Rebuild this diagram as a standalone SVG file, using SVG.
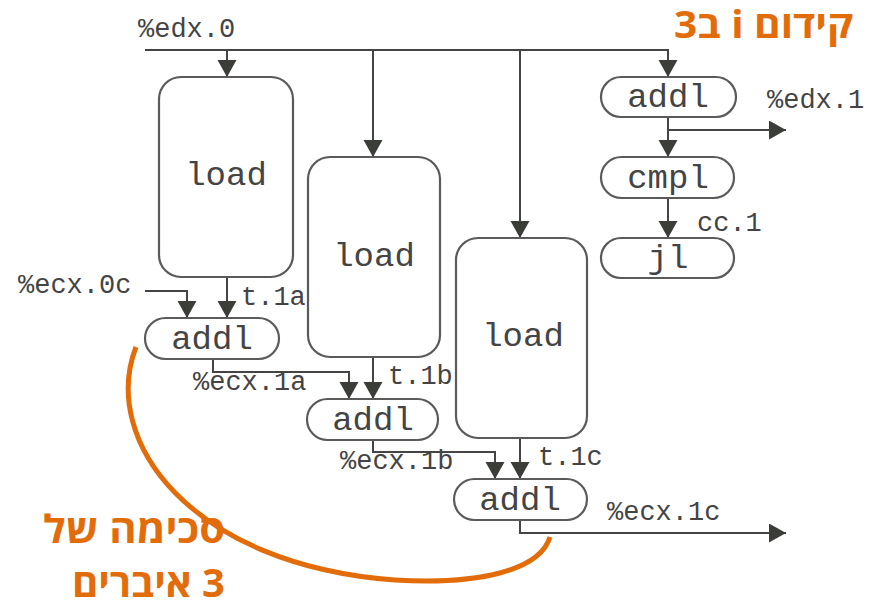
<svg xmlns="http://www.w3.org/2000/svg" width="869" height="607" viewBox="0 0 869 607">
  <style>
    .box { fill: #ffffff; stroke: #5a5a5a; stroke-width: 2.2; }
    .op { font-family: "Liberation Mono", "Courier New", monospace; font-size: 34px; fill: #444444; text-anchor: middle; }
    .lbl { font-family: "Liberation Mono", "Courier New", monospace; font-size: 27px; fill: #444444; }
    .wire { fill: none; stroke: #444444; stroke-width: 2; }
    .note { font-family: "Open Sans", "Liberation Sans", "DejaVu Sans", sans-serif; font-weight: bold; fill: #E36C0A; }
  </style>
  <defs>
    <marker id="arrow" markerUnits="userSpaceOnUse" markerWidth="18" markerHeight="20" refX="17" refY="9.5" orient="auto">
      <path d="M0,0 L17,9.5 L0,19 z" fill="#3a3d38"/>
    </marker>
  </defs>

  <rect width="869" height="607" fill="#ffffff"/>

  <!-- connectors -->
  <g id="connectors">
    <path class="wire" d="M145 50 H668 V77" marker-end="url(#arrow)"/>
    <path class="wire" d="M227 50 V77" marker-end="url(#arrow)"/>
    <path class="wire" d="M373 50 V157" marker-end="url(#arrow)"/>
    <path class="wire" d="M520 50 V238" marker-end="url(#arrow)"/>
    <path class="wire" d="M668 117 V157" marker-end="url(#arrow)"/>
    <path class="wire" d="M668 130 H786" marker-end="url(#arrow)"/>
    <path class="wire" d="M668 198 V238" marker-end="url(#arrow)"/>
    <path class="wire" d="M145 291 H187 V318" marker-end="url(#arrow)"/>
    <path class="wire" d="M227 277 V318" marker-end="url(#arrow)"/>
    <path class="wire" d="M213 359 V372 H349 V399" marker-end="url(#arrow)"/>
    <path class="wire" d="M373 357 V399" marker-end="url(#arrow)"/>
    <path class="wire" d="M373 440 V452 H495 V479" marker-end="url(#arrow)"/>
    <path class="wire" d="M520 438 V479" marker-end="url(#arrow)"/>
    <path class="wire" d="M520 520 V533 H786" marker-end="url(#arrow)"/>
  </g>

  <!-- wire labels -->
  <g id="labels">
    <text class="lbl" x="138" y="37">%edx.0</text>
    <text class="lbl" x="767" y="108">%edx.1</text>
    <text class="lbl" x="697" y="231">cc.1</text>
    <text class="lbl" x="18" y="293">%ecx.0c</text>
    <text class="lbl" x="241" y="305">t.1a</text>
    <text class="lbl" x="193" y="390">%ecx.1a</text>
    <text class="lbl" x="388" y="384">t.1b</text>
    <text class="lbl" x="340" y="469">%ecx.1b</text>
    <text class="lbl" x="538" y="465">t.1c</text>
    <text class="lbl" x="607" y="520">%ecx.1c</text>
  </g>

  <!-- load units -->
  <g id="load1">
    <rect class="box" x="159" y="77" width="134" height="200" rx="22"/>
    <text class="op" x="226" y="185">load</text>
  </g>
  <g id="load2">
    <rect class="box" x="308" y="157" width="132" height="200" rx="22"/>
    <text class="op" x="374" y="266">load</text>
  </g>
  <g id="load3">
    <rect class="box" x="456" y="238" width="131" height="200" rx="22"/>
    <text class="op" x="523" y="346">load</text>
  </g>

  <!-- accumulator chain -->
  <g id="addl1">
    <rect class="box" x="145" y="318" width="134" height="41" rx="20.5"/>
    <text class="op" x="212" y="349">addl</text>
  </g>
  <g id="addl2">
    <rect class="box" x="307" y="399" width="131" height="41" rx="20.5"/>
    <text class="op" x="373" y="430">addl</text>
  </g>
  <g id="addl3">
    <rect class="box" x="454" y="479" width="133" height="41" rx="20.5"/>
    <text class="op" x="520" y="510">addl</text>
  </g>

  <!-- loop control -->
  <g id="addl_idx">
    <rect class="box" x="601" y="77" width="135" height="40" rx="20"/>
    <text class="op" x="668" y="107">addl</text>
  </g>
  <g id="cmpl">
    <rect class="box" x="601" y="157" width="133" height="41" rx="20.5"/>
    <text class="op" x="668" y="188">cmpl</text>
  </g>
  <g id="jl">
    <rect class="box" x="601" y="238" width="133" height="40" rx="20"/>
    <text class="op" x="668" y="268">jl</text>
  </g>

  <!-- annotations -->
  <g id="annotations">
    <path d="M136 347 C100 440, 190 565, 395 580 C480 585, 540 570, 550 537" fill="none" stroke="#E36C0A" stroke-width="5"/>
    <text class="note" x="853" y="38" font-size="37" direction="rtl" text-anchor="start" textLength="179" lengthAdjust="spacingAndGlyphs">קידום i ב3</text>
    <text class="note" x="225" y="543" font-size="39" direction="rtl" text-anchor="start" textLength="182" lengthAdjust="spacingAndGlyphs">סכימה של</text>
    <text class="note" x="225" y="597" font-size="39" direction="rtl" text-anchor="start" textLength="153" lengthAdjust="spacingAndGlyphs">3 איברים</text>
  </g>
</svg>
